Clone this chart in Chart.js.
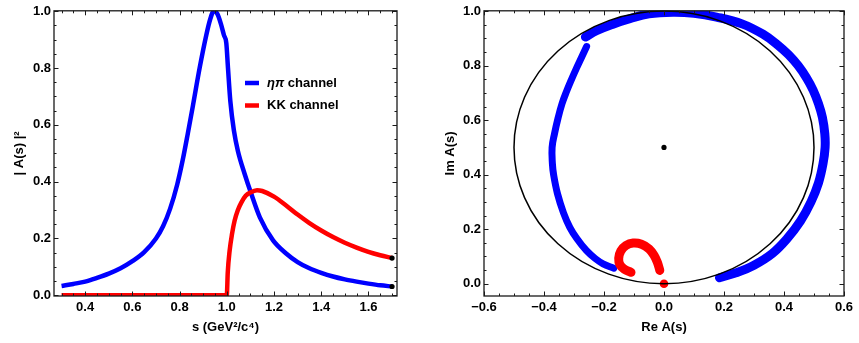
<!DOCTYPE html>
<html>
<head>
<meta charset="utf-8">
<script src="https://cdn.jsdelivr.net/npm/chart.js@4.4.1/dist/chart.umd.min.js"></script>
<style>
  html, body { margin: 0; padding: 0; background: #fff; }
  #wrap { position: relative; width: 859px; height: 343px; }
  .panel { position: absolute; top: 0; height: 343px; }
</style>
</head>
<body>
<div id="wrap">
  <div class="panel" style="left:0;width:430px"><canvas id="modulus"></canvas></div>
  <div class="panel" style="left:430px;width:429px"><canvas id="argand"></canvas></div>
</div>
<script>
// left panel: |A(s)|^2 against s
const sEtaPi = [0.3, 0.35, 0.4, 0.45, 0.5, 0.55, 0.6, 0.65, 0.7, 0.73, 0.76, 0.79, 0.813, 0.835, 0.856, 0.885,
  0.913, 0.93, 0.945, 0.96, 0.975, 0.988, 0.998, 1.005, 1.015, 1.03, 1.047, 1.076, 1.104, 1.14, 1.196, 1.25,
  1.3, 1.35, 1.4, 1.45, 1.5, 1.55, 1.6, 1.65, 1.7];
const ampEtaPi = [0.033, 0.04, 0.048, 0.061, 0.076, 0.095, 0.12, 0.152, 0.2, 0.243, 0.305, 0.39, 0.475, 0.57, 0.665, 0.8,
  0.915, 0.972, 1.0, 0.99, 0.955, 0.915, 0.887, 0.8, 0.683, 0.58, 0.508, 0.426, 0.356, 0.274, 0.193, 0.148,
  0.117, 0.095, 0.079, 0.066, 0.056, 0.048, 0.041, 0.035, 0.031];
const sKK = [0.3, 1.0, 1.004, 1.012, 1.022, 1.033, 1.047, 1.062, 1.08, 1.1, 1.128, 1.15, 1.2, 1.25, 1.3,
  1.35, 1.4, 1.45, 1.5, 1.55, 1.6, 1.65, 1.7];
const ampKK = [0, 0, 0.08, 0.157, 0.215, 0.262, 0.3, 0.327, 0.35, 0.362, 0.37, 0.367, 0.347, 0.317, 0.284,
  0.254, 0.228, 0.205, 0.185, 0.168, 0.153, 0.141, 0.131];
const endS = [1.7, 1.7];
const endAmp = [0.031, 0.131];

// right panel: Argand diagram
const reEtaPiLow = [0.185, 0.24, 0.30, 0.36, 0.41, 0.455, 0.49, 0.515, 0.53, 0.537, 0.536, 0.528, 0.515, 0.497,
  0.475, 0.447, 0.415, 0.38, 0.33, 0.26, 0.175, 0.10, 0.03, -0.05, -0.114, -0.17, -0.225, -0.262];
const imEtaPiLow = [0.022, 0.04, 0.068, 0.11, 0.165, 0.23, 0.30, 0.37, 0.44, 0.50, 0.55, 0.61, 0.66, 0.71,
  0.755, 0.80, 0.84, 0.875, 0.915, 0.953, 0.978, 0.992, 0.996, 0.99, 0.972, 0.952, 0.928, 0.905];
const reEtaPiHigh = [-0.258, -0.275, -0.292, -0.31, -0.325, -0.34, -0.353, -0.365, -0.373, -0.372, -0.368,
  -0.355, -0.335, -0.314, -0.29, -0.259, -0.23, -0.203, -0.167];
const imEtaPiHigh = [0.870, 0.83, 0.79, 0.745, 0.705, 0.66, 0.608, 0.55, 0.50, 0.44, 0.40,
  0.33, 0.26, 0.207, 0.165, 0.122, 0.093, 0.073, 0.057];
const reKK = [-0.014, -0.022, -0.033, -0.05, -0.075, -0.103, -0.127, -0.144, -0.151, -0.147, -0.132, -0.11];
const imKK = [0.049, 0.078, 0.104, 0.128, 0.145, 0.149, 0.14, 0.12, 0.093, 0.07, 0.053, 0.042];
const reKKBelow = [0];
const imKKBelow = [0];
const unitCentre = { x: 0, y: 0.5 };
const unitRadius = 0.5;

const BLUE = '#0000ff';
const RED = '#ff0000';
const FONT = { family: 'Liberation Sans, Arial, sans-serif', size: 13, weight: 'bold' };

function toPoints(xs, ys) {
  return xs.map((x, i) => ({ x, y: ys[i] }));
}

function fmt(v) {
  const t = Math.abs(v) < 1e-9 ? '0.0' : Math.abs(v).toFixed(1);
  return v < -1e-9 ? '\u2212' + t : t;
}

// Mathematica-like frame with inward ticks on all four sides
const framePlugin = {
  id: 'frame',
  afterDatasetsDraw(chart) {
    const { ctx, chartArea: a, scales } = chart;
    ctx.save();
    ctx.strokeStyle = '#1a1a1a';
    ctx.lineWidth = 1;
    const minor = 0.05;
    ['x', 'y'].forEach((id) => {
      const sc = scales[id];
      const k0 = Math.ceil(sc.min / minor - 1e-6);
      const k1 = Math.floor(sc.max / minor + 1e-6);
      for (let k = k0; k <= k1; k++) {
        const p = Math.round(sc.getPixelForValue(k * minor)) + 0.5;
        const len = (((k % 4) + 4) % 4 === 0) ? 4.5 : 2.5;
        ctx.beginPath();
        if (id === 'x') {
          ctx.moveTo(p, a.bottom); ctx.lineTo(p, a.bottom - len);
          ctx.moveTo(p, a.top); ctx.lineTo(p, a.top + len);
        } else {
          ctx.moveTo(a.left, p); ctx.lineTo(a.left + len, p);
          ctx.moveTo(a.right, p); ctx.lineTo(a.right - len, p);
        }
        ctx.stroke();
      }
    });
    ctx.lineWidth = 1.3;
    ctx.strokeRect(a.left, a.top, a.right - a.left, a.bottom - a.top);
    ctx.restore();
  },
};

const legendItems = [
  { greek: '\u03b7\u03c0', label: ' channel', color: BLUE },
  { greek: '', label: 'KK channel', color: RED },
];

const legendPlugin = {
  id: 'inlineLegend',
  afterDraw(chart) {
    const ctx = chart.ctx;
    ctx.save();
    ctx.textBaseline = 'middle';
    legendItems.forEach((it, i) => {
      const yy = 83 + i * 22.5;
      ctx.strokeStyle = it.color;
      ctx.lineWidth = 4.5;
      ctx.beginPath();
      ctx.moveTo(245, yy);
      ctx.lineTo(259, yy);
      ctx.stroke();
      let xx = 267;
      ctx.fillStyle = '#000';
      if (it.greek) {
        ctx.font = 'italic bold 13px "Liberation Sans", Arial, sans-serif';
        ctx.fillText(it.greek, xx, yy);
        xx += ctx.measureText(it.greek).width;
      }
      ctx.font = 'bold 13px "Liberation Sans", Arial, sans-serif';
      ctx.fillText(it.label, xx, yy);
    });
    ctx.restore();
  },
};

// unit circle of the Argand plane, drawn through the scales
const circlePlugin = {
  id: 'unitCircle',
  afterDatasetsDraw(chart) {
    const { ctx, scales: { x, y } } = chart;
    const cx = x.getPixelForValue(unitCentre.x);
    const cy = y.getPixelForValue(unitCentre.y);
    const rx = Math.abs(x.getPixelForValue(unitCentre.x + unitRadius) - cx);
    const ry = Math.abs(y.getPixelForValue(unitCentre.y + unitRadius) - cy);
    ctx.save();
    ctx.strokeStyle = '#000';
    ctx.lineWidth = 1.5;
    ctx.beginPath();
    ctx.ellipse(cx, cy, rx, ry, 0, 0, Math.PI * 2);
    ctx.stroke();
    ctx.restore();
  },
};

function axis(min, max, title, isX, titlePad) {
  return {
    type: 'linear',
    position: isX ? 'bottom' : 'left',
    min,
    max,
    grid: { display: false, drawTicks: false },
    border: { display: false },
    ticks: {
      stepSize: 0.2,
      includeBounds: false,
      color: '#000',
      font: FONT,
      padding: isX ? 4 : 3,
      maxRotation: 0,
      callback: (v) => fmt(v),
    },
    title: {
      display: true,
      text: title,
      color: '#000',
      font: FONT,
      padding: isX ? { top: 0, bottom: titlePad } : { top: titlePad, bottom: 0 },
    },
    afterFit(scale) {
      if (isX) scale.height = 47;
      else scale.width = 54;
    },
  };
}

const common = {
  responsive: true,
  maintainAspectRatio: false,
  animation: false,
  events: [],
  plugins: { legend: { display: false }, tooltip: { enabled: false } },
};

new Chart(document.getElementById('modulus').getContext('2d'), {
  type: 'scatter',
  data: {
    datasets: [
      {
        data: toPoints(endS, endAmp),
        backgroundColor: '#000',
        borderWidth: 0,
        pointRadius: 2.6,
      },
      {
        data: toPoints(sKK, ampKK),
        showLine: true,
        borderColor: RED,
        borderWidth: 4.5,
        pointRadius: 0,
        cubicInterpolationMode: 'monotone',
      },
      {
        data: toPoints(sEtaPi, ampEtaPi),
        showLine: true,
        borderColor: BLUE,
        borderWidth: 4.5,
        pointRadius: 0,
        cubicInterpolationMode: 'monotone',
      },
    ],
  },
  options: {
    ...common,
    layout: { padding: { top: 9, right: 33, left: 0, bottom: 0 } },
    scales: {
      x: axis(0.268, 1.721, 's (GeV\u00b2/c\u2074)', true, 8),
      y: axis(-0.0025, 1.001, '| A(s) |\u00b2', false, 12),
    },
  },
  plugins: [framePlugin, legendPlugin],
});

new Chart(document.getElementById('argand').getContext('2d'), {
  type: 'scatter',
  data: {
    datasets: [
      {
        data: [unitCentre],
        backgroundColor: '#000',
        borderWidth: 0,
        pointRadius: 2.6,
      },
      {
        data: toPoints(reKKBelow, imKKBelow),
        backgroundColor: RED,
        borderWidth: 0,
        pointRadius: 4.3,
      },
      {
        data: toPoints(reKK, imKK),
        showLine: true,
        borderColor: RED,
        borderWidth: 9,
        borderCapStyle: 'round',
        borderJoinStyle: 'round',
        pointRadius: 0,
        tension: 0.4,
      },
      {
        data: toPoints(reEtaPiHigh, imEtaPiHigh),
        showLine: true,
        borderColor: BLUE,
        borderWidth: 7,
        borderCapStyle: 'round',
        borderJoinStyle: 'round',
        pointRadius: 0,
        tension: 0.4,
      },
      {
        data: toPoints(reEtaPiLow, imEtaPiLow),
        showLine: true,
        borderColor: BLUE,
        borderWidth: 9,
        borderCapStyle: 'round',
        borderJoinStyle: 'round',
        pointRadius: 0,
        tension: 0.4,
      },
    ],
  },
  options: {
    ...common,
    layout: { padding: { top: 9, right: 15, left: 0, bottom: 0 } },
    scales: {
      x: axis(-0.6, 0.6, 'Re A(s)', true, 8),
      y: axis(-0.045, 1.001, 'Im A(s)', false, 13),
    },
  },
  plugins: [circlePlugin, framePlugin],
});
</script>
</body>
</html>
